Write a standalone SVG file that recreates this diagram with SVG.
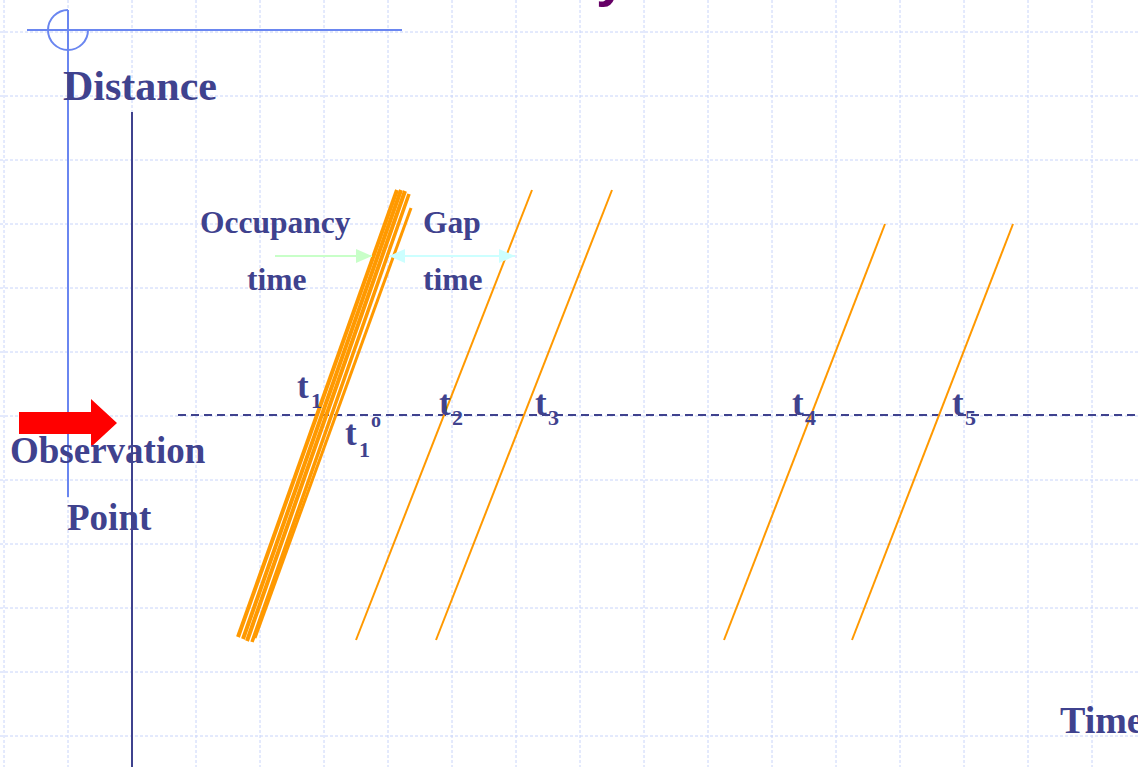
<svg xmlns="http://www.w3.org/2000/svg" width="1138" height="767" viewBox="0 0 1138 767">
  <defs>
    <style>
      .grid line { stroke: #c8d4fa; stroke-width: 1; stroke-dasharray: 3 2; }
      .lbl { font-family: "Liberation Serif", "Times New Roman", serif; font-weight: bold; fill: #3f428e; }
      .veh { stroke: #ff9900; fill: none; stroke-linecap: butt; }
    </style>
    <marker id="gHead" viewBox="0 0 16 14" refX="16" refY="7" markerWidth="16" markerHeight="14" markerUnits="userSpaceOnUse" orient="auto">
      <path d="M0,0 L16,7 L0,14 Z" fill="#c8ffc8"/>
    </marker>
    <marker id="cHead" viewBox="0 0 16 14" refX="16" refY="7" markerWidth="16" markerHeight="14" markerUnits="userSpaceOnUse" orient="auto-start-reverse">
      <path d="M0,0 L16,7 L0,14 Z" fill="#ccffff"/>
    </marker>
  </defs>
  <rect width="1138" height="767" fill="#ffffff"/>
  <g id="grid" class="grid">
    <line x1="4" y1="0" x2="4" y2="767"/>
    <line x1="68" y1="0" x2="68" y2="767"/>
    <line x1="132" y1="0" x2="132" y2="767"/>
    <line x1="196" y1="0" x2="196" y2="767"/>
    <line x1="260" y1="0" x2="260" y2="767"/>
    <line x1="324" y1="0" x2="324" y2="767"/>
    <line x1="388" y1="0" x2="388" y2="767"/>
    <line x1="452" y1="0" x2="452" y2="767"/>
    <line x1="516" y1="0" x2="516" y2="767"/>
    <line x1="580" y1="0" x2="580" y2="767"/>
    <line x1="644" y1="0" x2="644" y2="767"/>
    <line x1="708" y1="0" x2="708" y2="767"/>
    <line x1="772" y1="0" x2="772" y2="767"/>
    <line x1="836" y1="0" x2="836" y2="767"/>
    <line x1="900" y1="0" x2="900" y2="767"/>
    <line x1="964" y1="0" x2="964" y2="767"/>
    <line x1="1028" y1="0" x2="1028" y2="767"/>
    <line x1="1092" y1="0" x2="1092" y2="767"/>
    <line x1="0" y1="32" x2="1138" y2="32"/>
    <line x1="0" y1="96" x2="1138" y2="96"/>
    <line x1="0" y1="160" x2="1138" y2="160"/>
    <line x1="0" y1="224" x2="1138" y2="224"/>
    <line x1="0" y1="288" x2="1138" y2="288"/>
    <line x1="0" y1="352" x2="1138" y2="352"/>
    <line x1="0" y1="416" x2="1138" y2="416"/>
    <line x1="0" y1="480" x2="1138" y2="480"/>
    <line x1="0" y1="544" x2="1138" y2="544"/>
    <line x1="0" y1="608" x2="1138" y2="608"/>
    <line x1="0" y1="672" x2="1138" y2="672"/>
    <line x1="0" y1="736" x2="1138" y2="736"/>
  </g>
  <g id="decor">
    <text x="596" y="-5" font-family="Liberation Sans, Arial, sans-serif" font-weight="bold" font-size="56" fill="#660066">y</text>
    <line x1="27" y1="30" x2="402" y2="30" stroke="#6a86f0" stroke-width="2"/>
    <path d="M68,10 A20,20 0 1 0 88,30" fill="none" stroke="#6a86f0" stroke-width="2"/>
    <line x1="68" y1="10" x2="68" y2="497" stroke="#6a86f0" stroke-width="2"/>
  </g>
  <g id="axes">
    <line x1="132" y1="112" x2="132" y2="767" stroke="#3f428e" stroke-width="2"/>
    <line x1="178" y1="415" x2="1138" y2="415" stroke="#3f428e" stroke-width="2" stroke-dasharray="8 5"/>
  </g>
  <g id="vehicles">
    <line class="veh" x1="238" y1="637" x2="397" y2="190" stroke-width="4"/>
    <line class="veh" x1="243" y1="639" x2="401" y2="190" stroke-width="4"/>
    <line class="veh" x1="247" y1="641" x2="405" y2="191" stroke-width="4"/>
    <line class="veh" x1="252" y1="642" x2="409" y2="194" stroke-width="3.5"/>
    <line class="veh" x1="255" y1="638" x2="411" y2="208" stroke-width="3"/>
    <line class="veh" x1="356" y1="640" x2="532" y2="190" stroke-width="2"/>
    <line class="veh" x1="436" y1="640" x2="612" y2="190" stroke-width="2"/>
    <line class="veh" x1="724" y1="640" x2="885" y2="224" stroke-width="2"/>
    <line class="veh" x1="852" y1="640" x2="1013" y2="224" stroke-width="2"/>
  </g>
  <g id="connectors">
    <line x1="275" y1="256" x2="372" y2="256" stroke="#c8ffc8" stroke-width="2" marker-end="url(#gHead)"/>
    <line x1="389" y1="256" x2="515" y2="256" stroke="#ccffff" stroke-width="2" marker-start="url(#cHead)" marker-end="url(#cHead)"/>
  </g>
  <g id="observer">
    <polygon points="19,412 91,412 91,399 117,423 91,447 91,434 19,434" fill="#ff0000"/>
  </g>
  <g id="labels" class="lbl">
    <text x="63" y="100" font-size="42">Distance</text>
    <text x="200" y="233" font-size="31.5">Occupancy</text>
    <text x="247" y="290" font-size="31.5">time</text>
    <text x="423" y="233" font-size="31.5">Gap</text>
    <text x="423" y="290" font-size="31.5">time</text>
    <text x="10" y="463" font-size="37">Observation</text>
    <text x="67" y="530" font-size="37">Point</text>
    <text x="1060" y="733" font-size="38">Time</text>
    <text x="297" y="398" font-size="35">t</text><text x="311" y="408" font-size="22">1</text>
    <text x="345" y="445" font-size="35">t</text><text x="359" y="457" font-size="22">1</text><text x="371" y="427" font-size="20">o</text>
    <text x="439" y="415" font-size="35">t</text><text x="452" y="425" font-size="22">2</text>
    <text x="535" y="415" font-size="35">t</text><text x="548" y="425" font-size="22">3</text>
    <text x="792" y="415" font-size="35">t</text><text x="805" y="425" font-size="22">4</text>
    <text x="952" y="415" font-size="35">t</text><text x="965" y="425" font-size="22">5</text>
  </g>
</svg>
